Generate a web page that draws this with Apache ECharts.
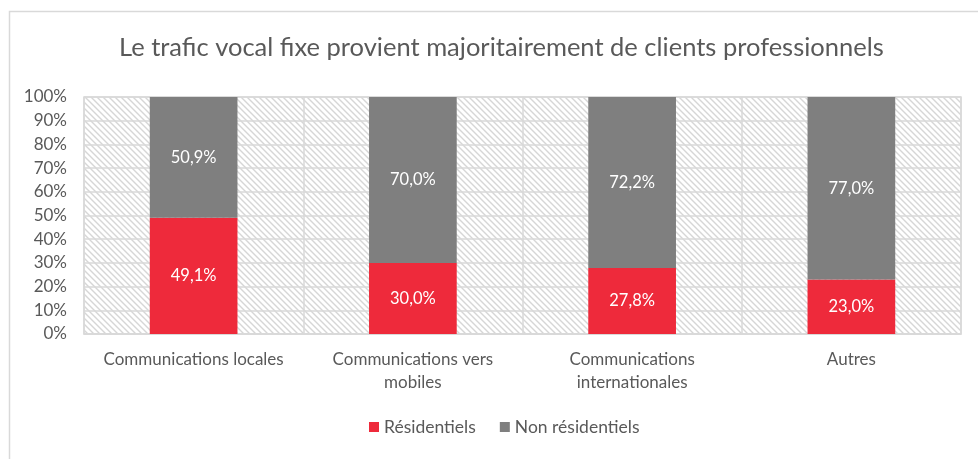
<!DOCTYPE html>
<html><head><meta charset="utf-8">
<script src="https://cdn.jsdelivr.net/npm/echarts@6/dist/echarts.min.js"></script>
<style>html,body{margin:0;padding:0;background:#fff}#c{width:978px;height:459px}</style>
</head><body><div id="c"></div>
<script>
const categories = ['Communications locales', 'Communications vers\nmobiles', 'Communications\ninternationales', 'Autres'];
const residentiels = [49.1, 30.0, 27.8, 23.0];
const nonResidentiels = [50.9, 70.0, 72.2, 77.0];
const yTicks = [0, 10, 20, 30, 40, 50, 60, 70, 80, 90, 100];

const pc = document.createElement('canvas');
pc.width = 6; pc.height = 6;
const ctx = pc.getContext('2d');
ctx.fillStyle = '#ffffff'; ctx.fillRect(0,0,6,6);
ctx.strokeStyle = '#d6d6d6'; ctx.lineWidth = 1.4;
ctx.beginPath();
ctx.moveTo(-1,-1); ctx.lineTo(7,7);
ctx.moveTo(-1,5); ctx.lineTo(1,7);
ctx.moveTo(5,-1); ctx.lineTo(7,1);
ctx.stroke();

const font = 'Lato, "Open Sans", sans-serif';
const chart = echarts.init(document.getElementById('c'));
const fmt = v => v.toFixed(1).replace('.', ',') + '%';
chart.setOption({
  animation: false,
  textStyle: { fontFamily: font },
  title: { text: 'Le trafic vocal fixe provient majoritairement de clients professionnels', left: 114, top: 30,
    textStyle: { fontFamily: font, fontSize: 25.5, fontWeight: 'normal', color: '#595959' } },
  graphic: [{ type: 'rect', left: 7, top: 9, shape: { width: 975, height: 470 }, style: { fill: 'none', stroke: '#d9d9d9', lineWidth: 1.5 }, silent: true }],
  legend: { bottom: 18, left: 364, itemWidth: 10, itemHeight: 10, itemGap: 24, icon: 'rect',
    textStyle: { fontFamily: font, fontSize: 17.5, color: '#595959' }, data: ['Résidentiels', 'Non résidentiels'] },
  grid: { left: 84, right: 17, top: 97, bottom: 125, show: true, backgroundColor: { image: pc, repeat: 'repeat' }, borderColor: '#d9d9d9', borderWidth: 1.5 },
  xAxis: { type: 'category', data: categories,
    axisLine: { show: true, lineStyle: { color: '#d9d9d9', width: 1.5 } }, axisTick: { show: false },
    splitLine: { show: true, lineStyle: { color: '#d9d9d9', width: 1.5 } },
    axisLabel: { interval: 0, fontFamily: font, fontSize: 17, color: '#595959', margin: 14, lineHeight: 23 } },
  yAxis: { type: 'value', min: yTicks[0], max: yTicks[yTicks.length-1], interval: 10,
    axisLine: { show: false }, axisTick: { show: false },
    splitLine: { lineStyle: { color: '#d9d9d9', width: 1.5 } },
    axisLabel: { fontFamily: font, fontSize: 17, color: '#595959', margin: 17, formatter: '{value}%' } },
  series: [
    { name: 'Résidentiels', type: 'bar', stack: 's', barWidth: '40%', data: residentiels,
      itemStyle: { color: '#EE2A3B' },
      label: { show: true, position: 'inside', color: '#ffffff', fontFamily: font, fontSize: 16.5, formatter: p => fmt(p.value) } },
    { name: 'Non résidentiels', type: 'bar', stack: 's', barWidth: '40%', data: nonResidentiels,
      itemStyle: { color: '#7F7F7F' },
      label: { show: true, position: 'inside', color: '#ffffff', fontFamily: font, fontSize: 16.5, formatter: p => fmt(p.value) } }
  ]
});
</script></body></html>
